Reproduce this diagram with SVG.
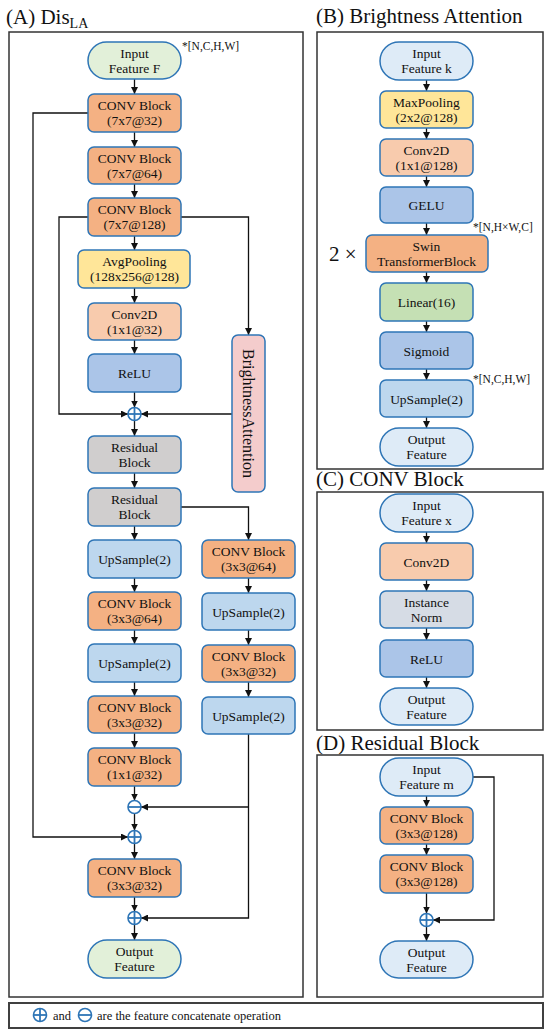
<svg xmlns="http://www.w3.org/2000/svg" width="550" height="1036" viewBox="0 0 550 1036">
<defs>
<marker id="arr" markerWidth="7" markerHeight="7" refX="7" refY="3.5" orient="auto" markerUnits="userSpaceOnUse"><path d="M0,0 L7,3.5 L0,7 z" fill="#111"/></marker>
<style>
.n{stroke:#2e75b6;stroke-width:1.5}
.g{fill:#e2f0d9}.o{fill:#f4b183}.y{fill:#ffe699}.lo{fill:#f8cbad}.b{fill:#abc5e8}.gr{fill:#d0cece}.lb{fill:#bdd7ee}.pk{fill:#f4cccc}.ib{fill:#deebf7}.lg{fill:#c5e0b4}.in{fill:#d6dce5}
text{font-family:"Liberation Serif","Times New Roman",serif;fill:#111}
.t{font-size:13.5px;text-anchor:middle}
.note{font-size:11.5px}
.title{font-size:21px}
.panel{fill:none;stroke:#333;stroke-width:1.5}
.c{fill:none;stroke:#111;stroke-width:1.3}
.op{fill:#fff;stroke:#2e75b6;stroke-width:1.6}
.opl{stroke:#2e75b6;stroke-width:1.8}
</style>
</defs>
<rect width="550" height="1036" fill="#fff"/>

<!-- titles and panels -->
<text class="title" x="6" y="24">(A) Dis<tspan font-size="14" dy="4">LA</tspan></text>
<text class="title" x="316" y="23">(B) Brightness Attention</text>
<text class="title" x="316" y="486">(C) CONV Block</text>
<text class="title" x="316" y="750">(D) Residual Block</text>
<rect class="panel" x="9" y="32" width="294" height="965"/>
<rect class="panel" x="317" y="32" width="226" height="437"/>
<rect class="panel" x="317" y="492" width="226" height="238"/>
<rect class="panel" x="317" y="755" width="226" height="242"/>

<!-- connectors -->
<g id="connectors">
<line class="c" x1="134.5" y1="79" x2="134.5" y2="94" marker-end="url(#arr)"/>
<line class="c" x1="134.5" y1="132" x2="134.5" y2="147" marker-end="url(#arr)"/>
<line class="c" x1="134.5" y1="184" x2="134.5" y2="198" marker-end="url(#arr)"/>
<line class="c" x1="134.5" y1="236" x2="134.5" y2="250" marker-end="url(#arr)"/>
<line class="c" x1="134.5" y1="288" x2="134.5" y2="303" marker-end="url(#arr)"/>
<line class="c" x1="134.5" y1="340" x2="134.5" y2="354" marker-end="url(#arr)"/>
<line class="c" x1="134.5" y1="392" x2="134.5" y2="407.5" marker-end="url(#arr)"/>
<line class="c" x1="134.5" y1="420.5" x2="134.5" y2="436" marker-end="url(#arr)"/>
<line class="c" x1="134.5" y1="473" x2="134.5" y2="488" marker-end="url(#arr)"/>
<line class="c" x1="134.5" y1="526" x2="134.5" y2="540" marker-end="url(#arr)"/>
<line class="c" x1="134.5" y1="578" x2="134.5" y2="592" marker-end="url(#arr)"/>
<line class="c" x1="134.5" y1="630" x2="134.5" y2="644" marker-end="url(#arr)"/>
<line class="c" x1="134.5" y1="682" x2="134.5" y2="696" marker-end="url(#arr)"/>
<line class="c" x1="134.5" y1="733" x2="134.5" y2="748" marker-end="url(#arr)"/>
<line class="c" x1="134.5" y1="786" x2="134.5" y2="800.5" marker-end="url(#arr)"/>
<line class="c" x1="134.5" y1="813.5" x2="134.5" y2="830.5" marker-end="url(#arr)"/>
<line class="c" x1="134.5" y1="843.5" x2="134.5" y2="859" marker-end="url(#arr)"/>
<line class="c" x1="134.5" y1="897" x2="134.5" y2="911.5" marker-end="url(#arr)"/>
<line class="c" x1="134.5" y1="924.5" x2="134.5" y2="940" marker-end="url(#arr)"/>
<polyline class="c" points="88,113 33,113 33,837 128,837" marker-end="url(#arr)"/>
<polyline class="c" points="88,217 59,217 59,414 128,414" marker-end="url(#arr)"/>
<polyline class="c" points="181,217 248.5,217 248.5,335" marker-end="url(#arr)"/>
<line class="c" x1="232" y1="414" x2="141" y2="414" marker-end="url(#arr)"/>
<polyline class="c" points="181,507 248.5,507 248.5,540" marker-end="url(#arr)"/>
<line class="c" x1="248.5" y1="578" x2="248.5" y2="593" marker-end="url(#arr)"/>
<line class="c" x1="248.5" y1="630" x2="248.5" y2="645" marker-end="url(#arr)"/>
<line class="c" x1="248.5" y1="682" x2="248.5" y2="697" marker-end="url(#arr)"/>
<polyline class="c" points="248.5,734 248.5,918 141,918" marker-end="url(#arr)"/>
<line class="c" x1="248.5" y1="807" x2="141" y2="807" marker-end="url(#arr)"/>
<!-- B -->
<line class="c" x1="426.5" y1="80" x2="426.5" y2="91" marker-end="url(#arr)"/>
<line class="c" x1="426.5" y1="128" x2="426.5" y2="139" marker-end="url(#arr)"/>
<line class="c" x1="426.5" y1="176" x2="426.5" y2="187" marker-end="url(#arr)"/>
<line class="c" x1="426.5" y1="223" x2="426.5" y2="235" marker-end="url(#arr)"/>
<line class="c" x1="426.5" y1="272" x2="426.5" y2="283" marker-end="url(#arr)"/>
<line class="c" x1="426.5" y1="321" x2="426.5" y2="332" marker-end="url(#arr)"/>
<line class="c" x1="426.5" y1="369" x2="426.5" y2="380" marker-end="url(#arr)"/>
<line class="c" x1="426.5" y1="417" x2="426.5" y2="428" marker-end="url(#arr)"/>
<!-- C -->
<line class="c" x1="426.5" y1="532" x2="426.5" y2="543" marker-end="url(#arr)"/>
<line class="c" x1="426.5" y1="580" x2="426.5" y2="591" marker-end="url(#arr)"/>
<line class="c" x1="426.5" y1="628" x2="426.5" y2="640" marker-end="url(#arr)"/>
<line class="c" x1="426.5" y1="677" x2="426.5" y2="688" marker-end="url(#arr)"/>
<!-- D -->
<line class="c" x1="426.5" y1="796" x2="426.5" y2="807" marker-end="url(#arr)"/>
<line class="c" x1="426.5" y1="844" x2="426.5" y2="855" marker-end="url(#arr)"/>
<line class="c" x1="426.5" y1="893" x2="426.5" y2="913.5" marker-end="url(#arr)"/>
<line class="c" x1="426.5" y1="926.5" x2="426.5" y2="941" marker-end="url(#arr)"/>
<polyline class="c" points="473,777 494,777 494,920 433,920" marker-end="url(#arr)"/>
</g>

<!-- Panel A nodes -->
<g id="a_input"><rect class="n g" x="88" y="42" width="93" height="37" rx="18.5"/><text class="t" x="134.5" y="57.5">Input</text><text class="t" x="134.5" y="73">Feature F</text></g>
<text class="note" x="182" y="50">*[N,C,H,W]</text>
<g id="a_conv1"><rect class="n o" x="88" y="94" width="93" height="38" rx="6"/><text class="t" x="134.5" y="110">CONV Block</text><text class="t" x="134.5" y="125">(7x7@32)</text></g>
<g id="a_conv2"><rect class="n o" x="88" y="147" width="93" height="37" rx="6"/><text class="t" x="134.5" y="162.5">CONV Block</text><text class="t" x="134.5" y="177.5">(7x7@64)</text></g>
<g id="a_conv3"><rect class="n o" x="88" y="198" width="93" height="38" rx="6"/><text class="t" x="134.5" y="214">CONV Block</text><text class="t" x="134.5" y="229">(7x7@128)</text></g>
<g id="a_avgpool"><rect class="n y" x="78" y="250" width="112" height="38" rx="6"/><text class="t" x="134.5" y="266">AvgPooling</text><text class="t" x="134.5" y="281">(128x256@128)</text></g>
<g id="a_conv2d"><rect class="n lo" x="88" y="303" width="93" height="37" rx="6"/><text class="t" x="134.5" y="318.5">Conv2D</text><text class="t" x="134.5" y="333.5">(1x1@32)</text></g>
<g id="a_relu"><rect class="n b" x="88" y="354" width="93" height="38" rx="6"/><text class="t" x="134.5" y="378">ReLU</text></g>
<g id="a_plus1"><circle class="op" cx="134.5" cy="414" r="6.5"/><line class="opl" x1="128" y1="414" x2="141" y2="414"/><line class="opl" x1="134.5" y1="407.5" x2="134.5" y2="420.5"/></g>
<g id="a_ba"><rect class="n pk" x="232" y="335" width="33" height="157" rx="6"/><text x="248.5" y="413.5" font-size="16" text-anchor="middle" dominant-baseline="central" transform="rotate(90 248.5 413.5)">BrightnessAttention</text></g>
<g id="a_res1"><rect class="n gr" x="88" y="436" width="93" height="37" rx="6"/><text class="t" x="134.5" y="451.5">Residual</text><text class="t" x="134.5" y="466.5">Block</text></g>
<g id="a_res2"><rect class="n gr" x="88" y="488" width="93" height="38" rx="6"/><text class="t" x="134.5" y="504">Residual</text><text class="t" x="134.5" y="519">Block</text></g>
<g id="a_ups1"><rect class="n lb" x="88" y="540" width="93" height="38" rx="6"/><text class="t" x="134.5" y="564">UpSample(2)</text></g>
<g id="a_conv4"><rect class="n o" x="88" y="592" width="93" height="38" rx="6"/><text class="t" x="134.5" y="608">CONV Block</text><text class="t" x="134.5" y="623">(3x3@64)</text></g>
<g id="a_ups2"><rect class="n lb" x="88" y="644" width="93" height="38" rx="6"/><text class="t" x="134.5" y="668">UpSample(2)</text></g>
<g id="a_conv5"><rect class="n o" x="88" y="696" width="93" height="37" rx="6"/><text class="t" x="134.5" y="711.5">CONV Block</text><text class="t" x="134.5" y="726.5">(3x3@32)</text></g>
<g id="a_conv6"><rect class="n o" x="88" y="748" width="93" height="38" rx="6"/><text class="t" x="134.5" y="764">CONV Block</text><text class="t" x="134.5" y="779">(1x1@32)</text></g>
<g id="a_minus"><circle class="op" cx="134.5" cy="807" r="6.5"/><line class="opl" x1="128" y1="807" x2="141" y2="807"/></g>
<g id="a_plus2"><circle class="op" cx="134.5" cy="837" r="6.5"/><line class="opl" x1="128" y1="837" x2="141" y2="837"/><line class="opl" x1="134.5" y1="830.5" x2="134.5" y2="843.5"/></g>
<g id="a_conv7"><rect class="n o" x="88" y="859" width="93" height="38" rx="6"/><text class="t" x="134.5" y="875">CONV Block</text><text class="t" x="134.5" y="890">(3x3@32)</text></g>
<g id="a_plus3"><circle class="op" cx="134.5" cy="918" r="6.5"/><line class="opl" x1="128" y1="918" x2="141" y2="918"/><line class="opl" x1="134.5" y1="911.5" x2="134.5" y2="924.5"/></g>
<g id="a_output"><rect class="n g" x="88" y="940" width="93" height="38" rx="19"/><text class="t" x="134.5" y="956">Output</text><text class="t" x="134.5" y="971">Feature</text></g>
<g id="a_rconv1"><rect class="n o" x="202" y="540" width="93" height="38" rx="6"/><text class="t" x="248.5" y="556">CONV Block</text><text class="t" x="248.5" y="571">(3x3@64)</text></g>
<g id="a_rups1"><rect class="n lb" x="202" y="593" width="93" height="37" rx="6"/><text class="t" x="248.5" y="616.5">UpSample(2)</text></g>
<g id="a_rconv2"><rect class="n o" x="202" y="645" width="93" height="37" rx="6"/><text class="t" x="248.5" y="660.5">CONV Block</text><text class="t" x="248.5" y="675.5">(3x3@32)</text></g>
<g id="a_rups2"><rect class="n lb" x="202" y="697" width="93" height="37" rx="6"/><text class="t" x="248.5" y="720.5">UpSample(2)</text></g>

<!-- Panel B -->
<g id="b_input"><rect class="n ib" x="380" y="42" width="93" height="38" rx="19"/><text class="t" x="426.5" y="58">Input</text><text class="t" x="426.5" y="73">Feature k</text></g>
<g id="b_maxpool"><rect class="n y" x="380" y="91" width="93" height="37" rx="6"/><text class="t" x="426.5" y="106.5">MaxPooling</text><text class="t" x="426.5" y="121.5">(2x2@128)</text></g>
<g id="b_conv2d"><rect class="n lo" x="380" y="139" width="93" height="37" rx="6"/><text class="t" x="426.5" y="154.5">Conv2D</text><text class="t" x="426.5" y="169.5">(1x1@128)</text></g>
<g id="b_gelu"><rect class="n b" x="380" y="187" width="93" height="36" rx="6"/><text class="t" x="426.5" y="210">GELU</text></g>
<text class="note" x="473" y="231">*[N,H×W,C]</text>
<text x="329" y="261" font-size="21">2 ×</text>
<g id="b_swin"><rect class="n o" x="366" y="235" width="122" height="37" rx="6"/><text class="t" x="426.5" y="250.5">Swin</text><text class="t" x="426.5" y="265.5">TransformerBlock</text></g>
<g id="b_linear"><rect class="n lg" x="380" y="283" width="93" height="38" rx="6"/><text class="t" x="426.5" y="307">Linear(16)</text></g>
<g id="b_sigmoid"><rect class="n b" x="380" y="332" width="93" height="37" rx="6"/><text class="t" x="426.5" y="355.5">Sigmoid</text></g>
<text class="note" x="473" y="383">*[N,C,H,W]</text>
<g id="b_ups"><rect class="n lb" x="380" y="380" width="93" height="37" rx="6"/><text class="t" x="426.5" y="403.5">UpSample(2)</text></g>
<g id="b_output"><rect class="n ib" x="380" y="428" width="93" height="38" rx="19"/><text class="t" x="426.5" y="444">Output</text><text class="t" x="426.5" y="459">Feature</text></g>

<!-- Panel C -->
<g id="c_input"><rect class="n ib" x="380" y="494" width="93" height="38" rx="19"/><text class="t" x="426.5" y="510">Input</text><text class="t" x="426.5" y="525">Feature x</text></g>
<g id="c_conv2d"><rect class="n lo" x="380" y="543" width="93" height="37" rx="6"/><text class="t" x="426.5" y="566.5">Conv2D</text></g>
<g id="c_inorm"><rect class="n in" x="380" y="591" width="93" height="37" rx="6"/><text class="t" x="426.5" y="606.5">Instance</text><text class="t" x="426.5" y="621.5">Norm</text></g>
<g id="c_relu"><rect class="n b" x="380" y="640" width="93" height="37" rx="6"/><text class="t" x="426.5" y="663.5">ReLU</text></g>
<g id="c_output"><rect class="n ib" x="380" y="688" width="93" height="37" rx="18.5"/><text class="t" x="426.5" y="703.5">Output</text><text class="t" x="426.5" y="718.5">Feature</text></g>

<!-- Panel D -->
<g id="d_input"><rect class="n ib" x="380" y="758" width="93" height="38" rx="19"/><text class="t" x="426.5" y="774">Input</text><text class="t" x="426.5" y="789">Feature m</text></g>
<g id="d_conv1"><rect class="n o" x="380" y="807" width="93" height="37" rx="6"/><text class="t" x="426.5" y="822.5">CONV Block</text><text class="t" x="426.5" y="837.5">(3x3@128)</text></g>
<g id="d_conv2"><rect class="n o" x="380" y="855" width="93" height="38" rx="6"/><text class="t" x="426.5" y="871">CONV Block</text><text class="t" x="426.5" y="886">(3x3@128)</text></g>
<g id="d_plus"><circle class="op" cx="426.5" cy="920" r="6.5"/><line class="opl" x1="420" y1="920" x2="433" y2="920"/><line class="opl" x1="426.5" y1="913.5" x2="426.5" y2="926.5"/></g>
<g id="d_output"><rect class="n ib" x="380" y="941" width="93" height="37" rx="18.5"/><text class="t" x="426.5" y="956.5">Output</text><text class="t" x="426.5" y="971.5">Feature</text></g>

<!-- legend -->
<g id="legend">
<rect x="9" y="1003" width="534" height="25" fill="none" stroke="#404040" stroke-width="2"/>
<circle class="op" cx="40" cy="1015" r="6.5"/><line class="opl" x1="33.5" y1="1015" x2="46.5" y2="1015"/><line class="opl" x1="40" y1="1008.5" x2="40" y2="1021.5"/>
<text x="53" y="1019.5" font-size="12.5">and</text>
<circle class="op" cx="85" cy="1015" r="6.5"/><line class="opl" x1="78.5" y1="1015" x2="91.5" y2="1015"/>
<text x="97" y="1019.5" font-size="12.5">are the feature concatenate operation</text>
</g>
</svg>
